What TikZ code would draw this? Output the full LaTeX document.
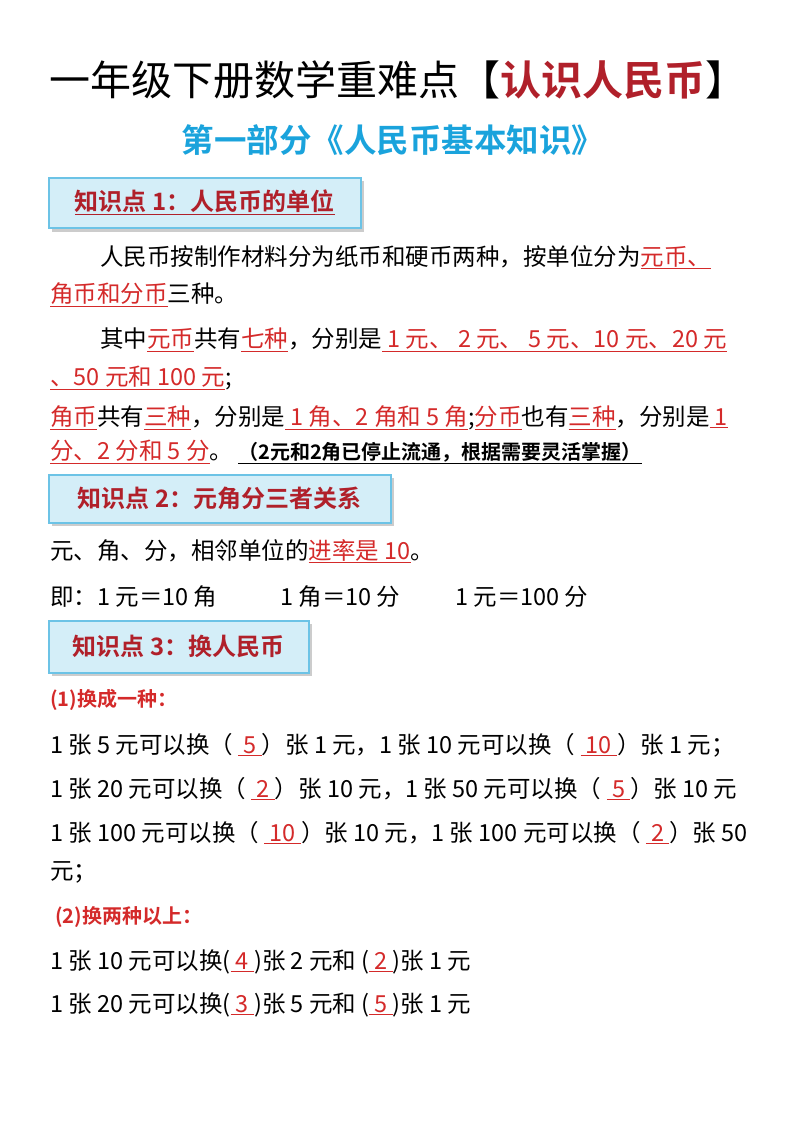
\documentclass[tikz,border=0pt]{standalone}
\usepackage{fontspec}
\setmainfont{Liberation Serif}
\newfontfamily\cjk{Noto Sans CJK SC}
\newfontfamily\cjkb{Noto Sans CJK SC Bold}
\definecolor{rd}{HTML}{D42A2A}
\definecolor{drd}{HTML}{B0202A}
\definecolor{sky}{HTML}{1AA3DC}
\definecolor{boxf}{HTML}{D4EEF8}
\definecolor{boxd}{HTML}{6CC3E6}
\newcommand{\ru}[1]{{\color{rd}\underline{#1}}}
\tikzset{
  body/.style={anchor=west,inner sep=0pt,font=\fontsize{23.5}{25}\selectfont\cjk},
  kbox/.style={draw=boxd,line width=1.5pt,fill=boxf,anchor=north west,minimum height=50pt,inner xsep=12pt,
    font=\fontsize{24}{26}\selectfont\cjkb\color{drd}},
  sub/.style={anchor=west,inner sep=0pt,font=\fontsize{20}{22}\selectfont\cjkb\color{rd}}
}
\begin{document}
\begin{tikzpicture}[x=1pt,y=-1pt]
\useasboundingbox (0,0) rectangle (800,1132);
\node[inner sep=0pt,font=\fontsize{41}{43}\selectfont\cjk] (title) at (398,80) {一年级下册数学重难点【{\cjkb\color{drd}认识人民币}】};
\node[inner sep=0pt,font=\fontsize{32.5}{34}\selectfont\cjkb\color{sky}] (subt) at (393,140) {第一部分《人民币基本知识》};
% box 1
\fill[gray!40] (52,181) rectangle (364,232);
\node[kbox,minimum width=312pt] (k1) at (48,177) {\underline{知识点 1：人民币的单位}};
\node[body] (p1) at (100,257) {人民币按制作材料分为纸币和硬币两种，按单位分为\ru{元币、}};
\node[body] (p2) at (50,295) {\ru{角币和分币}三种。};
\node[body] (p3) at (100,340) {其中\ru{元币}共有\ru{七种}，分别是\ru{ 1 元、 2 元、 5 元、10 元、20 元}};
\node[body] (p4) at (50,378) {\ru{、50 元和 100 元};};
\node[body] (p5) at (50,418) {\ru{角币}共有\ru{三种}，分别是\ru{ 1 角、2 角和 5 角};\ru{分币}也有\ru{三种}，分别是\ru{ 1}};
\node[body] (p6) at (50,452) {\ru{分、2 分和 5 分}。 \underline{\fontsize{20}{21}\selectfont\cjkb （2元和2角已停止流通，根据需要灵活掌握）}};
% box 2
\fill[gray!40] (52,478) rectangle (394,526);
\node[kbox,minimum width=342pt,minimum height=48pt] (k2) at (48,474) {知识点 2：元角分三者关系};
\node[body] (q1) at (50,551) {元、角、分，相邻单位的\ru{进率是 10}。};
\node[body] (q2) at (50,597) {即：1 元＝10 角};
\node[body] (q3) at (280,597) {1 角＝10 分};
\node[body] (q4) at (455,597) {1 元＝100 分};
% box 3
\fill[gray!40] (52,624) rectangle (312,676);
\node[kbox,minimum width=260pt,minimum height=52pt] (k3) at (48,620) {知识点 3：换人民币};
\node[sub] (s1) at (50,700) {(1)换成一种：};
\node[body] (r1) at (50,745) {1 张 5 元可以换（ \ru{ 5 }）张 1 元，1 张 10 元可以换（ \ru{ 10 }）张 1 元；};
\node[body] (r2) at (50,789) {1 张 20 元可以换（ \ru{ 2 }）张 10 元，1 张 50 元可以换（ \ru{ 5 }）张 10 元};
\node[body] (r3) at (50,833) {1 张 100 元可以换（ \ru{ 10 }）张 10 元，1 张 100 元可以换（ \ru{ 2 }）张 50};
\node[body] (r4) at (50,872) {元；};
\node[sub] (s2) at (55,917) {(2)换两种以上：};
\node[body] (t1) at (50,962) {1 张 10 元可以换(\ru{ 4 })张 2 元和 (\ru{ 2 })张 1 元};
\node[body] (t2) at (50,1005) {1 张 20 元可以换(\ru{ 3 })张 5 元和 (\ru{ 5 })张 1 元};
\end{tikzpicture}
\end{document}
